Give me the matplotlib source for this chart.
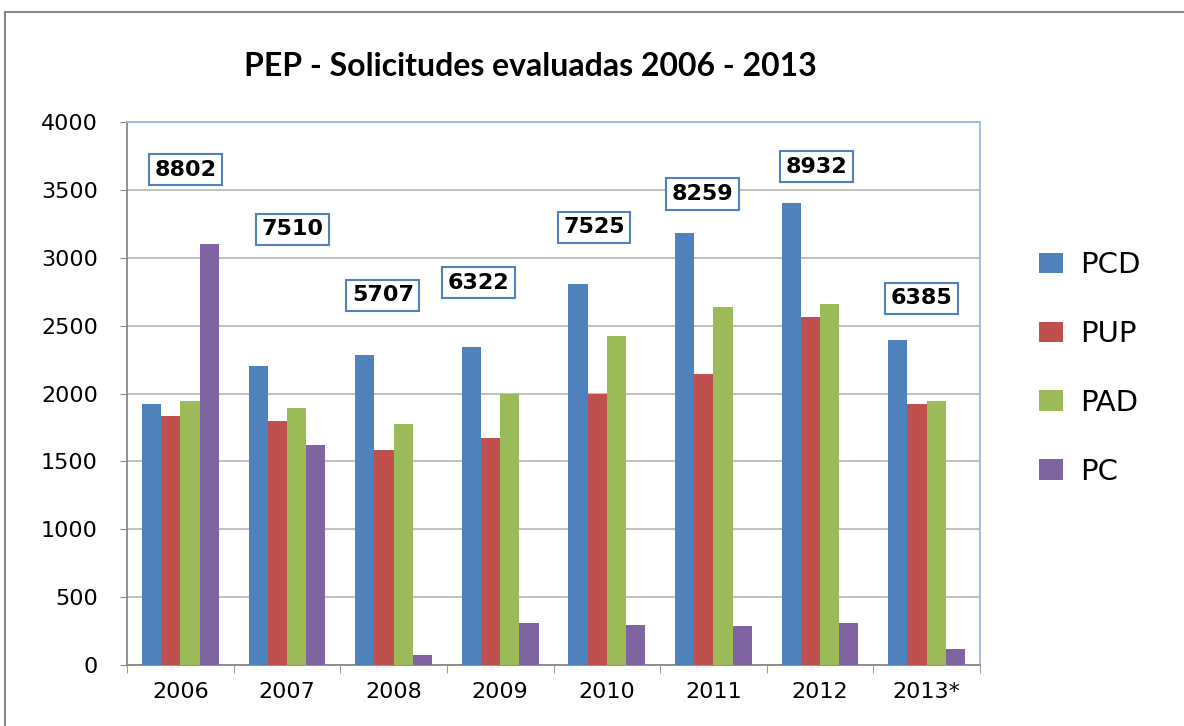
import numpy as np
import matplotlib.pyplot as plt
from matplotlib.patches import Rectangle

years = ['2006', '2007', '2008', '2009', '2010', '2011', '2012', '2013*']
pcd = [1925, 2200, 2280, 2342, 2810, 3184, 3400, 2395]
pup = [1835, 1800, 1582, 1670, 2000, 2145, 2562, 1925]
pad = [1942, 1890, 1775, 2000, 2420, 2640, 2660, 1945]
pc = [3100, 1620, 70, 310, 295, 290, 310, 120]
totals = [8802, 7510, 5707, 6322, 7525, 8259, 8932, 6385]

# where the total boxes sit (layout only)
box_x = [0.05, 0.05, -0.1, -0.2, -0.12, -0.1, -0.03, -0.05]
box_y = [3650, 3210, 2725, 2815, 3225, 3470, 3670, 2700]

series = [('PCD', pcd, '#4F81BD'), ('PUP', pup, '#C0504D'),
          ('PAD', pad, '#9BBB59'), ('PC', pc, '#8064A2')]

fig = plt.figure(figsize=(11.84, 7.26), dpi=100)
fig.patches.append(Rectangle((5 / 1184, -0.1), 1.2, 1 - 12 / 726 + 0.1,
                             transform=fig.transFigure, fill=False,
                             edgecolor='#888888', linewidth=1.5))
ax = fig.add_axes([127 / 1184, 1 - 665 / 726, 853 / 1184, 543 / 726])

x = np.arange(len(years))
w = 0.18
for i, (name, vals, col) in enumerate(series):
    ax.bar(x + (i - 1.5) * w, vals, w, color=col, label=name, zorder=3)

for i, t in enumerate(totals):
    ax.text(x[i] + box_x[i], box_y[i], str(t), ha='center', va='center',
            fontsize=16, fontweight='bold', zorder=5,
            bbox=dict(boxstyle='square,pad=0.25', fc='white', ec='#4F81BD', lw=1.5))

ax.set_xlim(-0.5, len(years) - 0.5)
ax.set_ylim(0, 4000)
ax.set_yticks(range(0, 4001, 500))
ax.set_xticks(x)
ax.set_xticklabels(years)
ax.set_xticks(np.arange(-0.5, len(years), 1), minor=True)
ax.tick_params(axis='x', which='major', length=0, pad=12, labelsize=16)
ax.tick_params(axis='x', which='minor', length=6, color='#888888')
ax.tick_params(axis='y', length=5, color='#888888', labelsize=16, pad=16)
ax.yaxis.grid(True, color='#BBBBBB', linewidth=1.3, zorder=0)

for s in ['left', 'bottom']:
    ax.spines[s].set_color('#888888')
    ax.spines[s].set_linewidth(1.3)
for s in ['top', 'right']:
    ax.spines[s].set_color('#9DB9DC')
    ax.spines[s].set_linewidth(1.3)

fig.text(530 / 1184, 1 - 66 / 726, 'PEP - Solicitudes evaluadas 2006 - 2013',
         ha='center', va='center', fontsize=23, fontweight='bold', family='Lato')

fig.legend(loc='upper left', bbox_to_anchor=(1013 / 1184, 1 - 225 / 726),
           frameon=False, fontsize=21, handlelength=0.8, handleheight=0.7,
           labelspacing=1.4, handletextpad=0.6)

fig.savefig('out.png', dpi=100)
